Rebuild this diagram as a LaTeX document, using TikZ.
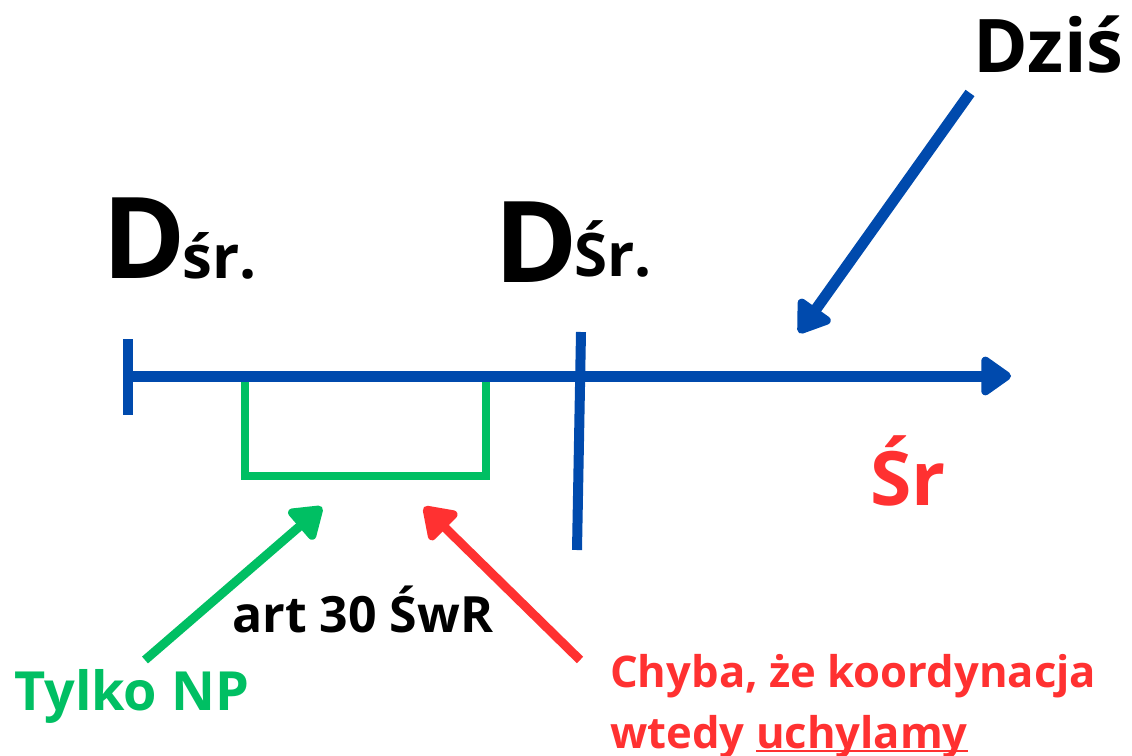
\documentclass[tikz,border=0pt]{standalone}
\usepackage{fontspec}
\setmainfont{Open Sans}
\usetikzlibrary{arrows.meta}
\definecolor{cblue}{HTML}{004AAD}
\definecolor{cgreen}{HTML}{00BF63}
\definecolor{cred}{HTML}{FF3131}
\tikzset{
  lbl/.style={inner sep=0pt, anchor=base west, font=\bfseries},
  axis/.style={draw=cblue, line width=11pt},
  tickline/.style={draw=cblue, line width=10pt},
  pointer/.style={line width=9pt, -{Triangle[round, length=34pt, width=44pt]}},
}
\begin{document}
\begin{tikzpicture}[x=1pt,y=-1pt]
\useasboundingbox (0,0) rectangle (1132,755);
% coordinates
\coordinate (ax0) at (128,376);
\coordinate (ax1) at (1011,376);
\coordinate (t1a) at (128,339);
\coordinate (t1b) at (128,415);
\coordinate (t2a) at (581,332);
\coordinate (t2b) at (577,550);
\coordinate (b1) at (245,372);
\coordinate (b2) at (245,476);
\coordinate (b3) at (486,476);
\coordinate (b4) at (486,372);
\coordinate (gtail) at (145,660);
\coordinate (gtip) at (322,507);
\coordinate (rtail) at (580,660);
\coordinate (rtip) at (424,507);
\coordinate (dtail) at (970,93);
\coordinate (dtip) at (799,333);
% green bracket
\draw[cgreen, line width=8pt] (b1) -- (b2) -- (b3) -- (b4);
% axis
\draw[axis, -{Triangle[round, length=33pt, width=44pt]}] (ax0) -- (ax1);
\draw[tickline] (t1a) -- (t1b);
\draw[tickline] (t2a) -- (t2b);
% labels
\node[lbl, font=\bfseries\fontsize{113}{113}\selectfont] (d1) at (102,278) {D};
\node[lbl, font=\bfseries\fontsize{60}{60}\selectfont] (s1) at (182,278) {śr.};
\node[lbl, font=\bfseries\fontsize{113}{113}\selectfont] (d2) at (494,282) {D};
\node[lbl, font=\bfseries\fontsize{60}{60}\selectfont] (s2) at (574,276) {Śr.};
\node[lbl, font=\bfseries\fontsize{74}{74}\selectfont] (dzis) at (973,72) {Dziś};
\node[lbl, font=\bfseries\fontsize{75}{75}\selectfont, text=cred] (sr) at (870,505) {Śr};
\node[lbl, font=\bfseries\fontsize{50}{50}\selectfont] (art) at (232,632) {art 30 ŚwR};
\node[lbl, font=\bfseries\fontsize{54}{54}\selectfont, text=cgreen] (tylko) at (14,710) {Tylko NP};
\node[lbl, font=\bfseries\fontsize{43.6}{44}\selectfont, text=cred] (ch1) at (610,687) {Chyba, że koordynacja};
\node[lbl, font=\bfseries\fontsize{43.6}{44}\selectfont, text=cred] (ch2) at (610,748) {wtedy};
\node[lbl, font=\bfseries\fontsize{43.6}{44}\selectfont, text=cred, anchor=base west] (uch) at ([xshift=11pt]ch2.base east) {uchylamy};
\draw[cred, line width=2pt] ([yshift=-3pt]uch.base west) -- ([yshift=-3pt]uch.base east);
% pointers
\draw[pointer, cgreen] (gtail) -- (gtip);
\draw[pointer, cred] (rtail) -- (rtip);
\draw[pointer, cblue, line width=11pt] (dtail) -- (dtip);
\end{tikzpicture}
\end{document}
